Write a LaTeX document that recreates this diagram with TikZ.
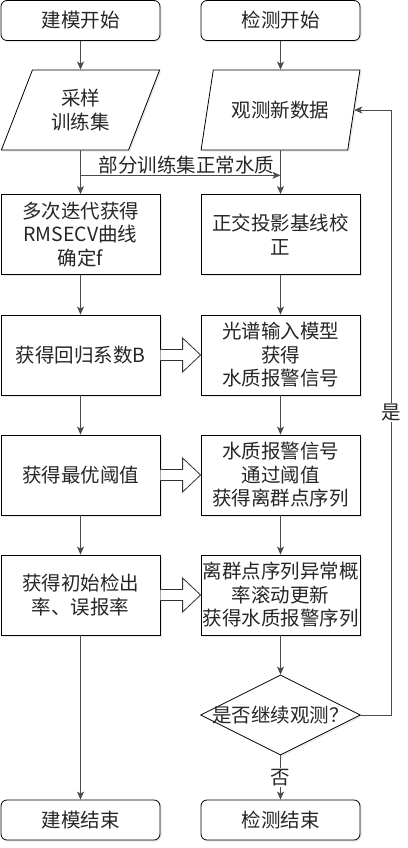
\documentclass[tikz,border=0pt]{standalone}
\usepackage{fontspec}
\setmainfont{Noto Sans CJK SC}
\usepackage{tikz}
\usetikzlibrary{shapes.geometric}
\usetikzlibrary{calc}
\usetikzlibrary{arrows.meta}
\usetikzlibrary{shadows}
\tikzset{shadowed/.style={drop shadow={shadow xshift=1.5pt,shadow yshift=-1.5pt,opacity=0.18}},
         procbox/.style={draw,fill=white,line width=0.8pt,minimum width=159pt,minimum height=80pt,
                         inner sep=1pt,align=center,text=black!85,shadowed},
         termbox/.style={procbox,rounded corners=6pt,minimum height=40pt},
         iobox/.style={procbox,trapezium,trapezium left angle=65.8,trapezium right angle=114.2,
                       trapezium stretches=true},
         askbox/.style={draw,fill=white,line width=0.8pt,diamond,minimum width=160pt,
                        minimum height=80pt,inner sep=0pt,shadowed},
         flow/.style={draw=black!70,line width=0.8pt,-{Stealth[length=8pt,width=7pt,inset=2pt]}},
         blockedge/.style={draw=black!80,fill=white,line width=0.8pt,line join=miter},
         elab/.style={fill=white,inner sep=1pt,text=black!85}
        }

\begin{document}
\begin{tikzpicture}[x=1pt,y=-1pt,font=\fontsize{19.5}{23.5}\selectfont]
        \useasboundingbox (0,0) rectangle (407,848);
        % modelling branch
        \node[termbox] (mstart)  at (80.5,20.5)  {建模开始};
        \node[iobox]   (msample) at (80.5,110)   {采样\\训练集};
        \node[procbox] (mcv)     at (80.5,234.5) {多次迭代获得\\RMSECV曲线\\确定f};
        \node[procbox] (mcoef)   at (80.5,355)   {获得回归系数B};
        \node[procbox] (mthr)    at (80.5,475)   {获得最优阈值};
        \node[procbox] (mrate)   at (80.5,595)   {获得初始检出\\率、误报率};
        \node[termbox] (mend)    at (80.5,820)   {建模结束};

        % detection branch
        \node[termbox] (dstart)  at (280.5,20.5)  {检测开始};
        \node[iobox]   (dnew)    at (280.5,110)   {观测新数据};
        \node[procbox] (dosc)    at (280.5,234.5) {正交投影基线校\\正};
        \node[procbox] (dsig)    at (280.5,355)   {光谱输入模型\\获得\\水质报警信号};
        \node[procbox] (dout)    at (280.5,475)   {水质报警信号\\通过阈值\\获得离群点序列};
        \node[procbox] (dseq)    at (280.5,595)   {离群点序列异常概\\率滚动更新\\获得水质报警序列};
        \node[askbox, label={[text=black!85]center:是否继续观测？}] (dask) at (280.5,715) {};
        \node[termbox] (dend)    at (280.5,820)   {检测结束};

        \draw[flow] (mstart) -- (msample);
        \draw[flow] (msample) -- (mcv);
        \draw[flow] (mcv) -- (mcoef);
        \draw[flow] (mcoef) -- (mthr);
        \draw[flow] (mthr) -- (mrate);
        \draw[flow] (mrate) -- (mend);

        \coordinate (fork) at ($(msample.south)!0.57!(mcv.north)$);
        \draw[flow] (fork) -- (fork -| dnew)
            node[pos=0.53, above, inner sep=1pt, text=black!85] {部分训练集正常水质};

        \draw[flow] (dstart) -- (dnew);
        \draw[flow] (dnew) -- (dosc);
        \draw[flow] (dosc) -- (dsig);
        \draw[flow] (dsig) -- (dout);
        \draw[flow] (dout) -- (dseq);
        \draw[flow] (dseq) -- (dask);
        \draw[flow] (dask) -- node[elab] {否} (dend);
        \draw[flow] (dask.east) -- ++(30,0) |- node[elab, pos=0.25] {是} (dnew.east);

        % hollow block arrows
        \foreach \a/\b in {mcoef/dsig, mthr/dout, mrate/dseq}
            \draw[blockedge] ($(\a.east)+(0,-5.5)$) -- ($(\b.west)+(-18,-5.5)$)
                -- ($(\b.west)+(-18,-17)$) -- (\b.west) -- ($(\b.west)+(-18,17)$)
                -- ($(\b.west)+(-18,5.5)$) -- ($(\a.east)+(0,5.5)$);
\end{tikzpicture}
\end{document}
